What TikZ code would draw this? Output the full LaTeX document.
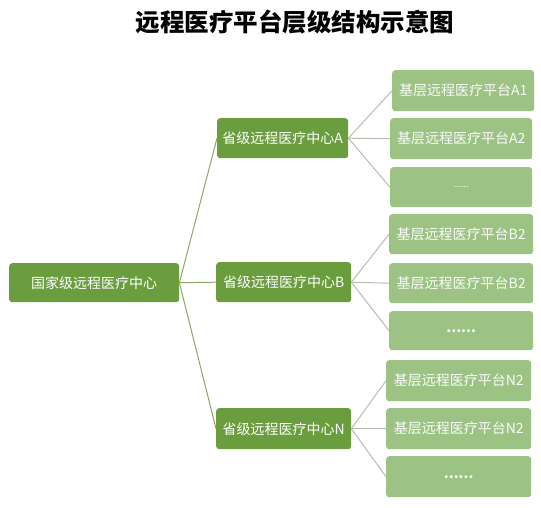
\documentclass[tikz,border=0pt]{standalone}
\usepackage{fontspec}
\setmainfont{Noto Sans CJK SC}
\definecolor{dkgreen}{HTML}{6A9D3E}
\definecolor{ltgreen}{HTML}{9CC284}
\definecolor{rootline}{HTML}{8DA865}
\definecolor{leafline}{HTML}{B9BCAE}
\tikzset{
  box/.style={rounded corners=3pt, inner sep=0pt, text=white, font=\fontsize{14}{16}\selectfont, anchor=north west},
  midbox/.style={box, fill=dkgreen},
  leafbox/.style={box, fill=ltgreen, text=white!95!ltgreen},
  rline/.style={draw=rootline, line width=1pt},
  lline/.style={draw=leafline, line width=1pt},
}
\begin{document}
\begin{tikzpicture}[x=1pt,y=-1pt]
\useasboundingbox (0,0) rectangle (541,507);
\node[font=\fontsize{24.5}{28}\selectfont\bfseries] (title) at (295,22) {远程医疗平台层级结构示意图};
% root
\node[midbox, minimum width=170pt, minimum height=39pt] (root) at (9,263) {国家级远程医疗中心};
% mid
\node[midbox, minimum width=131pt, minimum height=40pt] (A) at (217,118) {省级远程医疗中心A};
\node[midbox, minimum width=135pt, minimum height=40pt] (B) at (216,262) {省级远程医疗中心B};
\node[midbox, minimum width=135pt, minimum height=41pt] (N) at (216,408) {省级远程医疗中心N};
% leaves
\node[leafbox, minimum width=142pt, minimum height=41pt] (A1) at (392,70) {基层远程医疗平台A1};
\node[leafbox, minimum width=142pt, minimum height=41pt] (A2) at (390,118) {基层远程医疗平台A2};
\node[leafbox, minimum width=142pt, minimum height=40pt] (A3) at (390,167) {\fontsize{9}{10}\selectfont ......};
\node[leafbox, minimum width=144pt, minimum height=40pt] (B1) at (389,214) {基层远程医疗平台B2};
\node[leafbox, minimum width=144pt, minimum height=40pt] (B2) at (389,263) {基层远程医疗平台B2};
\node[leafbox, minimum width=144pt, minimum height=39pt] (B3) at (389,311) {\bfseries ......};
\node[leafbox, minimum width=145pt, minimum height=41pt] (N1) at (386,360) {基层远程医疗平台N2};
\node[leafbox, minimum width=145pt, minimum height=41pt] (N2) at (386,408) {基层远程医疗平台N2};
\node[leafbox, minimum width=145pt, minimum height=41pt] (N3) at (386,456) {\bfseries ......};
% connectors
\foreach \m in {A,B,N} \draw[rline] (root.east) -- (\m.west);
\foreach \m/\l in {A/A1,A/A2,A/A3,B/B1,B/B2,B/B3,N/N1,N/N2,N/N3} \draw[lline] (\m.east) -- (\l.west);
\end{tikzpicture}
\end{document}
